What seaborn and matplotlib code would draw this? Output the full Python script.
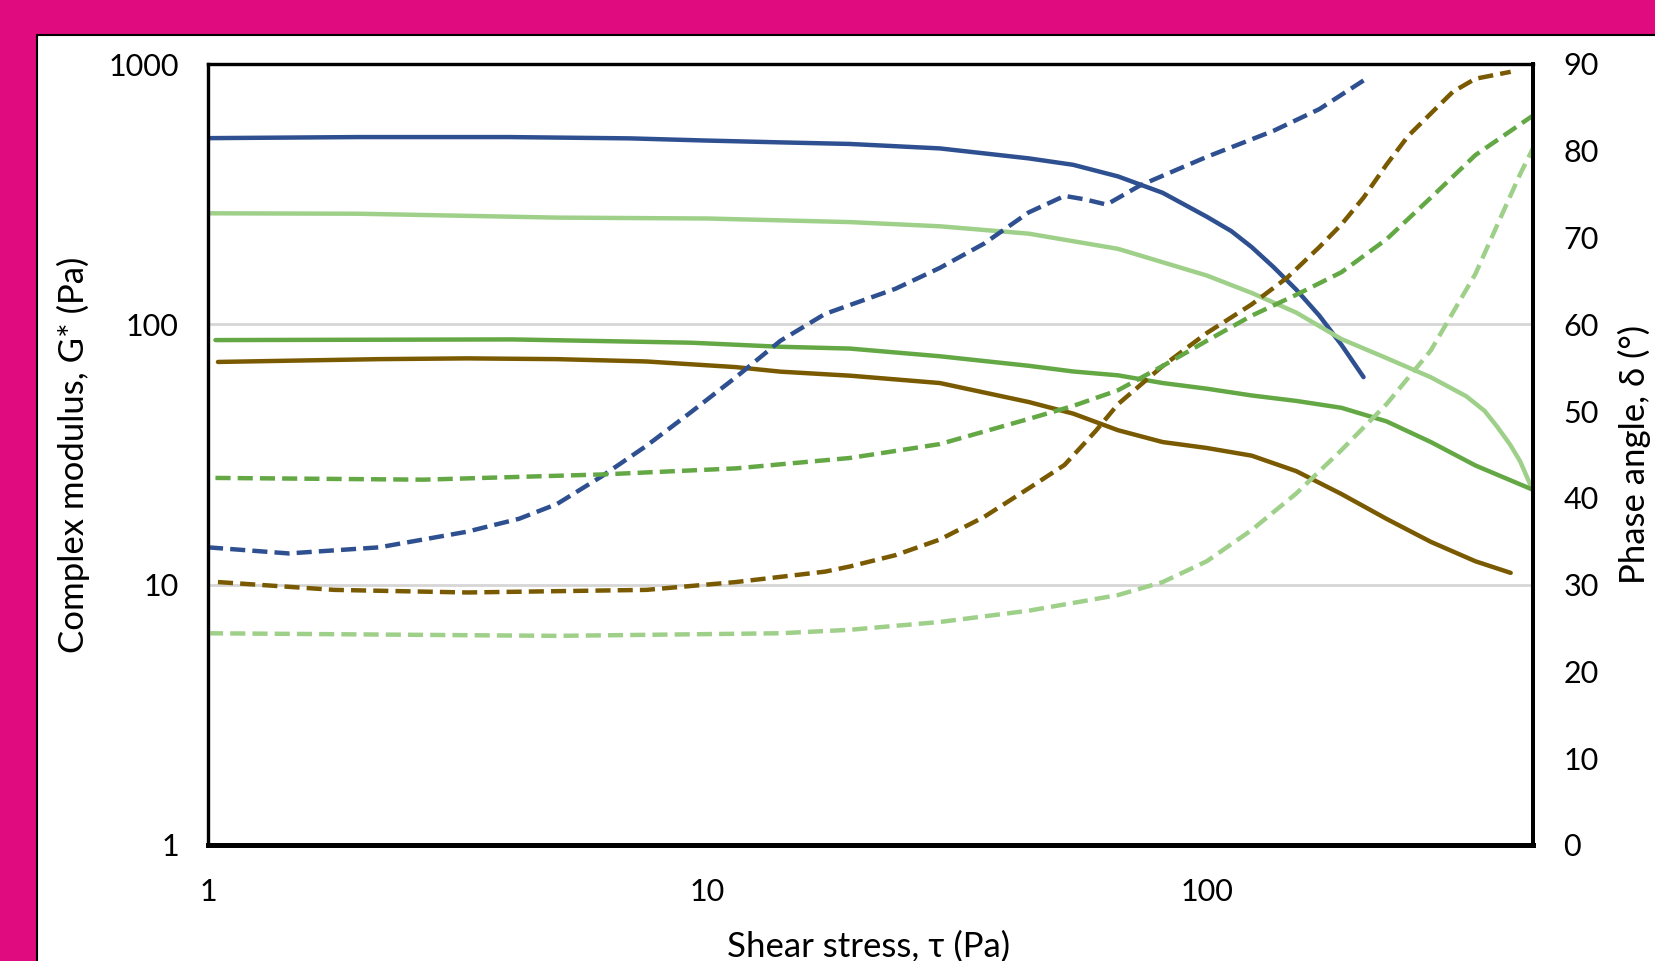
import matplotlib
matplotlib.use("Agg")
import matplotlib.pyplot as plt
import seaborn as sns
import pandas as pd
from matplotlib.patches import Rectangle
from matplotlib.ticker import FixedLocator, NullLocator, FixedFormatter

# ---------------- data ----------------
# Complex modulus G* (Pa) -- solid lines, left log axis
blue_g_x = [1.0, 2.0, 4.0, 7.0, 10.0, 14.0, 19.3, 29.2, 44.0, 54.0, 66.4, 81.6, 100, 112, 123, 136, 151, 168, 186, 206]
blue_g_y = [519, 524, 524, 518, 508, 500, 493, 474, 434, 410, 370, 320, 259, 228, 198, 166, 136, 108, 83.5, 62.7]

lgreen_g_x = [1.0, 2.0, 5.0, 10.0, 19.3, 29.2, 44.0, 66.4, 100, 123, 151, 186, 229, 281, 331, 360, 382, 405, 424, 451]
lgreen_g_y = [267, 266, 257, 255, 247, 238, 223, 195, 154, 132, 111, 87.8, 74.2, 62.6, 52.9, 46.5, 40.3, 34.5, 29.8, 22.7]

green_g_x = [1.035, 4.07, 9.28, 14.0, 19.3, 29.2, 44.0, 54.0, 66.4, 81.6, 100, 123, 151, 186, 229, 281, 345, 451]
green_g_y = [87.0, 87.5, 85.0, 82.0, 80.7, 75.4, 69.3, 65.9, 63.7, 59.5, 56.6, 53.3, 50.8, 47.8, 42.4, 35.3, 28.7, 23.1]

brown_g_x = [1.047, 2.2, 3.3, 5.0, 7.55, 11.4, 14.0, 19.3, 29.2, 44.0, 54.0, 66.4, 81.6, 100, 123, 151, 186, 229, 281, 345, 406]
brown_g_y = [71.7, 73.5, 74.0, 73.5, 72.0, 68.5, 65.8, 63.5, 59.5, 50.3, 45.4, 39.2, 35.3, 33.5, 31.3, 27.3, 22.3, 17.9, 14.6, 12.3, 11.1]

# Phase angle delta (deg) -- dashed lines, right axis
blue_d_x = [1.0, 1.45, 2.2, 3.3, 4.2, 5.0, 6.15, 7.55, 9.28, 11.4, 14.0, 17.2, 23.8, 29.2, 35.8, 44.0, 51.9, 57.0, 63.0, 73.5, 100, 136, 168, 206]
blue_d_y = [34.3, 33.6, 34.3, 36.1, 37.6, 39.3, 42.5, 46.0, 49.9, 53.9, 58.1, 61.2, 64.1, 66.5, 69.3, 72.9, 74.8, 74.4, 73.8, 76.0, 79.3, 82.3, 84.8, 88.1]

brown_d_x = [1.047, 1.79, 3.3, 7.55, 11.4, 17.2, 19.3, 23.8, 29.2, 35.8, 44.0, 51.9, 59.9, 66.4, 81.6, 100, 123, 145, 168, 186, 206, 229, 253, 281, 311, 345, 406]
brown_d_y = [30.3, 29.4, 29.1, 29.4, 30.3, 31.5, 32.1, 33.4, 35.2, 37.8, 41.1, 43.8, 47.7, 50.8, 55.2, 59.0, 62.3, 65.4, 68.9, 71.5, 74.6, 78.4, 81.7, 84.3, 86.8, 88.3, 89.1]

green_d_x = [1.035, 2.7, 6.15, 11.4, 19.3, 29.2, 44.0, 54.0, 66.4, 81.6, 100, 123, 151, 186, 229, 281, 345, 451]
green_d_y = [42.3, 42.1, 42.7, 43.4, 44.6, 46.2, 49.1, 50.6, 52.4, 55.2, 58.1, 61.0, 63.4, 66.0, 69.8, 74.6, 79.5, 84.1]

lgreen_d_x = [1.0, 5.0, 14.0, 19.3, 29.2, 44.0, 66.4, 81.6, 100, 123, 151, 186, 229, 281, 345, 382, 424, 451]
lgreen_d_y = [24.4, 24.1, 24.4, 24.8, 25.7, 27.0, 28.8, 30.3, 32.7, 36.3, 40.5, 45.5, 50.8, 57.0, 65.8, 71.5, 77.3, 80.4]

left_ticks = [1, 10, 100, 1000]
left_labels = ["1", "10", "100", "1000"]
x_ticks = [1, 10, 100]
x_labels = ["1", "10", "100"]
right_ticks = [0, 10, 20, 30, 40, 50, 60, 70, 80, 90]

# ---------------- styling ----------------
BLUE = "#2F5090"
LGREEN = "#9FD08A"
GREEN = "#63A844"
BROWN = "#7A5A00"
MAGENTA = "#E10B80"

sns.set_theme(style="white")
plt.rcParams["font.family"] = ["Lato", "DejaVu Sans"]
FS_TICK = 22
FS_LAB = 25

fig = plt.figure(figsize=(16.55, 9.61), dpi=100, facecolor=MAGENTA)
fig.add_artist(Rectangle((37 / 1655, -0.05), 1.1, 1 - 35 / 961 + 0.05,
                         transform=fig.transFigure, facecolor="white",
                         edgecolor="black", linewidth=1.5, zorder=0))

ax = fig.add_axes([208 / 1655, 1 - 845 / 961, (1533 - 208) / 1655, (845 - 64) / 961])
ax.set_facecolor("white")
ax2 = ax.twinx()
ax2.patch.set_visible(False)

LW = 3.2
DASH = (0, (3.4, 1.6))

def solid(x, y, c):
    df = pd.DataFrame({"x": x, "y": y})
    sns.lineplot(data=df, x="x", y="y", ax=ax, color=c, linewidth=LW,
                 errorbar=None, solid_capstyle="round", solid_joinstyle="round")

def dashed(x, y, c):
    df = pd.DataFrame({"x": x, "y": y})
    sns.lineplot(data=df, x="x", y="y", ax=ax2, color=c, linewidth=LW,
                 errorbar=None, linestyle=DASH, dash_capstyle="butt",
                 dash_joinstyle="round")

solid(blue_g_x, blue_g_y, BLUE)
solid(lgreen_g_x, lgreen_g_y, LGREEN)
solid(green_g_x, green_g_y, GREEN)
solid(brown_g_x, brown_g_y, BROWN)

dashed(blue_d_x, blue_d_y, BLUE)
dashed(brown_d_x, brown_d_y, BROWN)
dashed(green_d_x, green_d_y, GREEN)
dashed(lgreen_d_x, lgreen_d_y, LGREEN)

ax.set_xscale("log")
ax.set_yscale("log")
ax.set_xlim(1, 450)
ax.set_ylim(1, 1000)
ax2.set_ylim(0, 90)

ax.xaxis.set_major_locator(FixedLocator(x_ticks))
ax.xaxis.set_major_formatter(FixedFormatter(x_labels))
ax.xaxis.set_minor_locator(NullLocator())
ax.yaxis.set_major_locator(FixedLocator(left_ticks))
ax.yaxis.set_major_formatter(FixedFormatter(left_labels))
ax.yaxis.set_minor_locator(NullLocator())
ax2.yaxis.set_major_locator(FixedLocator(right_ticks))
ax2.yaxis.set_minor_locator(NullLocator())

ax.grid(False)
ax2.grid(False)
ax.yaxis.grid(True, which="major", color="#D6D6D6", linewidth=2.0)
ax.set_axisbelow(True)

ax.tick_params(axis="x", length=0, pad=24, labelsize=FS_TICK, colors="black")
ax.tick_params(axis="y", length=0, pad=21, labelsize=FS_TICK, colors="black")
ax2.tick_params(axis="y", length=0, pad=22, labelsize=FS_TICK, colors="black")

for a in (ax, ax2):
    for s in a.spines.values():
        s.set_color("black")
        s.set_linewidth(2.3)
    a.spines["bottom"].set_linewidth(3.5)
    a.spines["right"].set_linewidth(2.8)

ax.set_xlabel("Shear stress, τ (Pa)", fontsize=FS_LAB, color="black")
ax.set_ylabel("Complex modulus, G* (Pa)", fontsize=FS_LAB, color="black")
ax2.set_ylabel("Phase angle, δ (°)", fontsize=FS_LAB, color="black")
ax.xaxis.set_label_coords(0.4985, -0.11)
ax.yaxis.set_label_coords(-0.089, 0.5)
ax2.yaxis.set_label_coords(1.064, 0.5)

fig.savefig("out.png", dpi=100, facecolor=MAGENTA)
